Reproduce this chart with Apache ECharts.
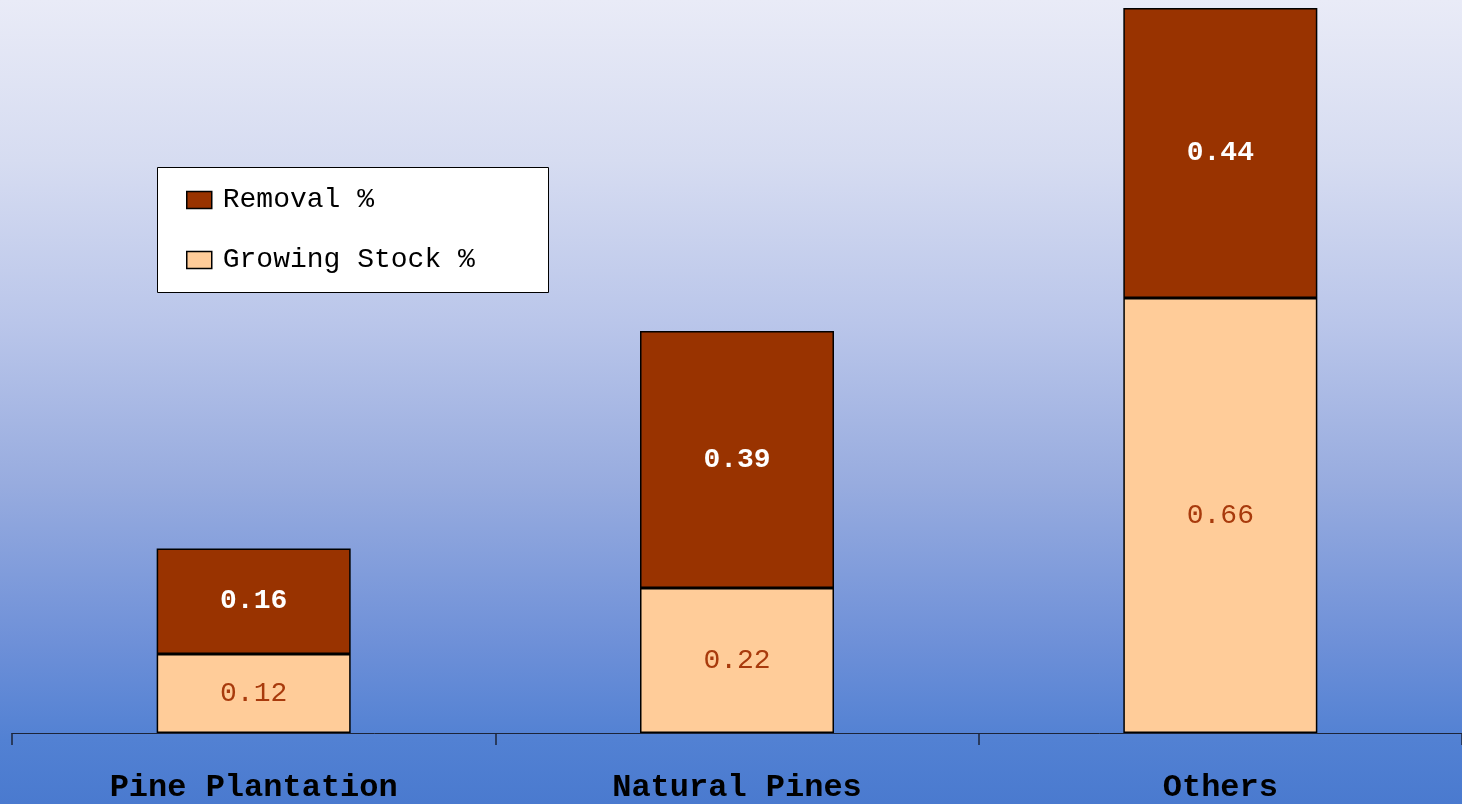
<!DOCTYPE html>
<html>
<head>
<meta charset="utf-8">
<title>Removal % vs Growing Stock %</title>
<script src="https://cdn.jsdelivr.net/npm/echarts@6/dist/echarts.min.js"></script>
<style>
  html, body { margin: 0; padding: 0; }
  #chart { width: 1462px; height: 804px; }
</style>
</head>
<body>
<div id="chart"></div>
<script>
// Forest types on the x axis
const categories = ['Pine Plantation', 'Natural Pines', 'Others'];
// Stacked shares per forest type
const growingStock = [0.12, 0.22, 0.66];
const removal = [0.16, 0.39, 0.44];
const seriesNames = ['Removal %', 'Growing Stock %'];

const FONT = '"Liberation Mono", "DejaVu Sans Mono", monospace';

const chart = echarts.init(document.getElementById('chart'), null, { renderer: 'canvas' });

chart.setOption({
  animation: false,
  backgroundColor: {
    type: 'linear', x: 0, y: 0, x2: 0, y2: 1,
    colorStops: [
      { offset: 0.0, color: '#e9ebf7' },
      { offset: 0.2, color: '#d6dcf1' },
      { offset: 0.4, color: '#bac6ea' },
      { offset: 0.6, color: '#98acdf' },
      { offset: 0.8, color: '#6e90d8' },
      { offset: 0.92, color: '#5281d3' },
      { offset: 1.0, color: '#4a7acf' }
    ]
  },
  grid: { left: 12, right: 0, top: 8, bottom: 71, containLabel: false },
  graphic: [{
    type: 'rect',
    left: 157, top: 167,
    shape: { width: 391, height: 125 },
    style: { fill: '#ffffff', stroke: '#000000', lineWidth: 1 },
    z: 0
  }],
  legend: {
    data: seriesNames,
    orient: 'vertical',
    left: 181, top: 181,
    itemWidth: 25, itemHeight: 17,
    itemGap: 32,
    icon: 'rect',
    itemStyle: { borderColor: '#000', borderWidth: 1.5 },
    textStyle: { fontFamily: FONT, fontSize: 28, color: '#000', padding: [0, 0, 0, 6] },
    z: 5
  },
  xAxis: {
    type: 'category',
    data: categories,
    boundaryGap: true,
    axisLine: { show: true, lineStyle: { color: '#1c2438', width: 1 } },
    axisTick: { show: true, length: 12, inside: false, lineStyle: { color: '#1c2438', width: 1.5 } },
    axisLabel: {
      fontFamily: FONT, fontSize: 32, fontWeight: 'bold', color: '#000',
      margin: 39, interval: 0
    },
    splitLine: { show: false }
  },
  yAxis: {
    type: 'value', min: 0, max: 1.1, show: false,
    splitLine: { show: false }
  },
  series: [
    {
      name: 'Growing Stock %',
      type: 'bar',
      stack: 'total',
      data: growingStock,
      barWidth: 194,
      itemStyle: { color: '#ffcc99', borderColor: '#000', borderWidth: 1.5 },
      label: {
        show: true, position: 'inside',
        fontFamily: FONT, fontSize: 28, color: '#a83a0c',
        formatter: p => p.value.toFixed(2)
      }
    },
    {
      name: 'Removal %',
      type: 'bar',
      stack: 'total',
      data: removal,
      barWidth: 194,
      itemStyle: { color: '#993300', borderColor: '#000', borderWidth: 1.5 },
      label: {
        show: true, position: 'inside',
        fontFamily: FONT, fontSize: 28, fontWeight: 'bold', color: '#ffffff',
        formatter: p => p.value.toFixed(2)
      }
    }
  ]
});
</script>
</body>
</html>
